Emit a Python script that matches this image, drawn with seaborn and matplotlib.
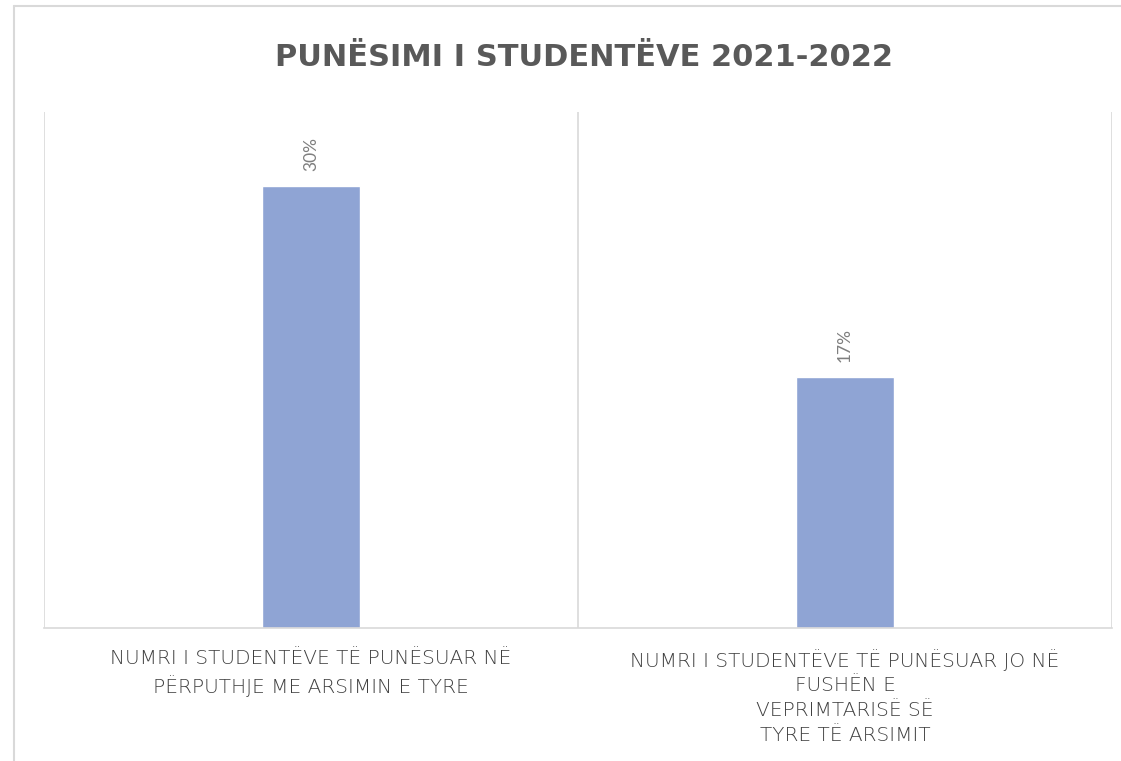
import matplotlib
matplotlib.use("Agg")
import matplotlib.pyplot as plt
import seaborn as sns
import pandas as pd
from matplotlib.lines import Line2D

categories = [
    "NUMRI I STUDENTËVE TË PUNËSUAR NË\nPËRPUTHJE ME ARSIMIN E TYRE",
    "NUMRI I STUDENTËVE TË PUNËSUAR JO NË\nFUSHËN E\nVEPRIMTARISË SË\nTYRE TË ARSIMIT",
]
values = [30, 17]
value_labels = ["30%", "17%"]
title = "PUNËSIMI I STUDENTËVE 2021-2022"

df = pd.DataFrame({"cat": categories, "val": values})

sns.set_style("white")
plt.rcParams["font.family"] = ["DejaVu Sans"]

fig = plt.figure(figsize=(11.21, 7.61), dpi=100)
ax = fig.add_axes([44 / 1121, 1 - 628 / 761, (1112 - 44) / 1121, (628 - 112) / 761])

sns.barplot(x="cat", y="val", data=df, color="#8FA4D4", width=0.183,
            saturation=1, ax=ax)

ax.set_xlim(-0.5, 1.5)
ax.set_ylim(0, 35)
ax.set_xlabel("")
ax.set_ylabel("")
ax.set_yticks([])
for s in ["top", "left", "right"]:
    ax.spines[s].set_visible(False)
ax.spines["bottom"].set_color("#d9d9d9")
ax.spines["bottom"].set_linewidth(1.2)
for xv in [-0.5, 0.5, 1.5]:
    ax.axvline(xv, color="#d9d9d9", lw=1.2, zorder=0)

ax.tick_params(axis="x", length=0, pad=15)
for lbl in ax.get_xticklabels():
    lbl.set_fontsize(14.5)
    lbl.set_fontweight("light")
    lbl.set_color("#404040")
    lbl.set_linespacing(1.38)

for i, (v, t) in enumerate(zip(values, value_labels)):
    ax.annotate(t, (i, v), xytext=(0, 15), textcoords="offset pixels",
                rotation=90, ha="center", va="bottom", fontsize=12.5,
                color="#7f7f7f", family="Lato")

fig.text(584 / 1121, 1 - 57 / 761, title, ha="center", va="center",
         fontsize=22, fontweight="bold", color="#595959")

# outer chart border (only top and left fall inside the picture)
fig.add_artist(Line2D([14 / 1121, 1.0], [1 - 6 / 761, 1 - 6 / 761],
                      transform=fig.transFigure, color="#d9d9d9", lw=1.5))
fig.add_artist(Line2D([14 / 1121, 14 / 1121], [0, 1 - 6 / 761],
                      transform=fig.transFigure, color="#d9d9d9", lw=1.5))

fig.savefig("out.png", dpi=100)
